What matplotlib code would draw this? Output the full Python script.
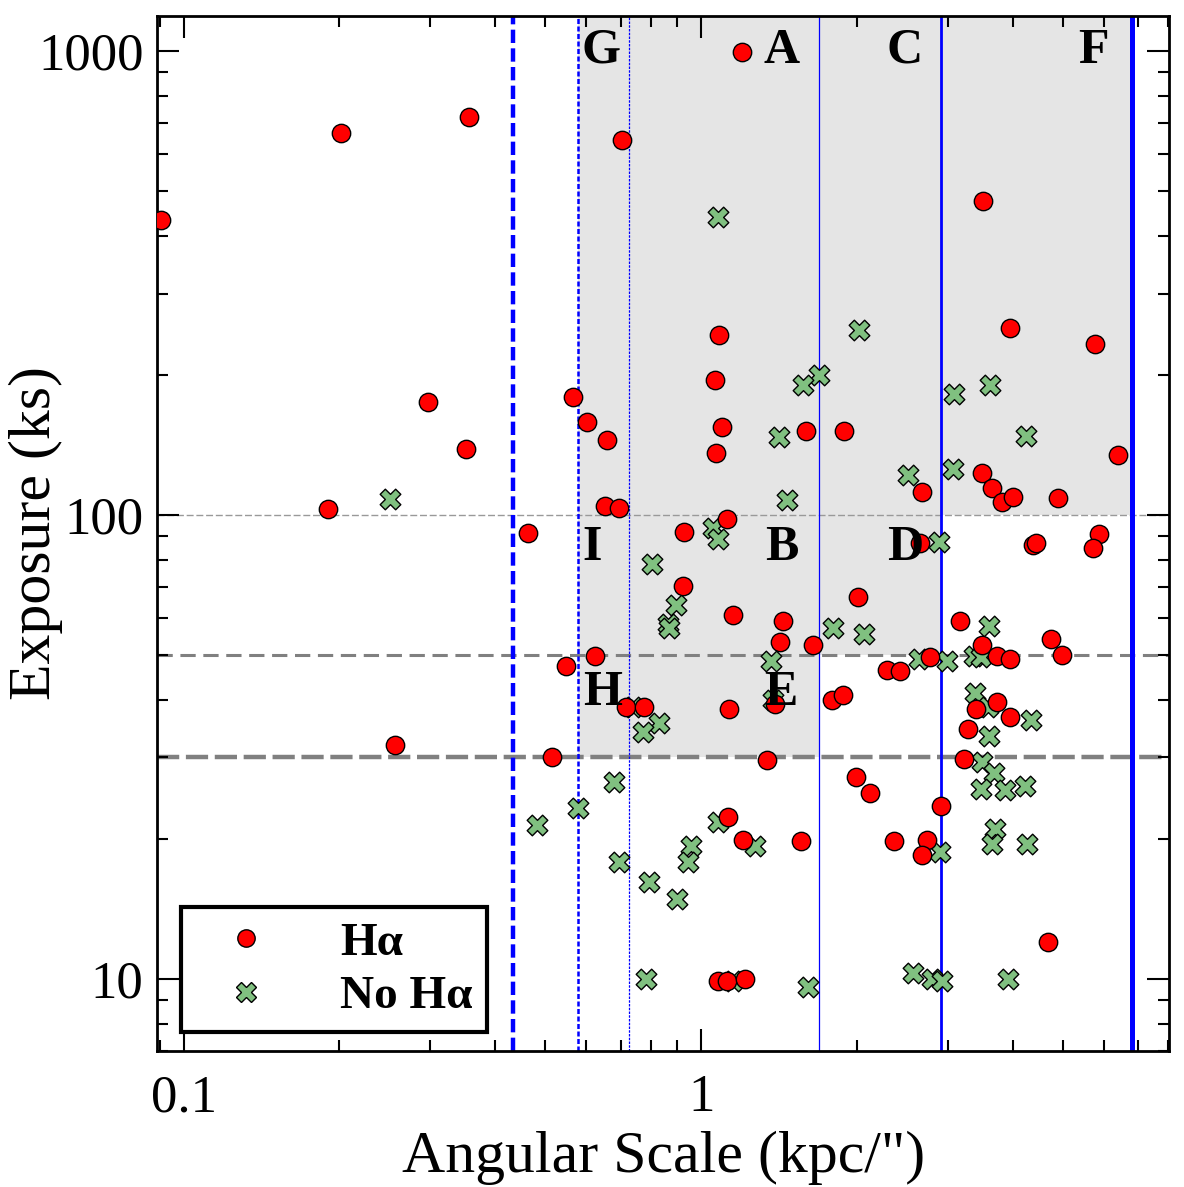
import matplotlib.pyplot as plt
from matplotlib.lines import Line2D

plt.rcParams['font.family'] = ['Liberation Serif', 'DejaVu Serif']

# galaxies with H-alpha: angular scale (kpc/") and exposure (ks)
ha_scale = [0.0905, 0.2015, 0.356, 0.297, 0.3515, 0.190, 0.2563, 1.201, 0.703, 3.505,
            3.949, 5.77, 1.085, 1.066, 0.565, 0.601, 0.658, 1.096, 1.070, 1.596,
            1.890, 6.377, 2.672, 3.493, 3.653, 3.816, 4.012, 4.888, 0.6534, 0.6931,
            1.120, 0.4625, 0.9284, 0.922, 1.151, 1.440, 1.421, 1.644, 0.624, 0.548,
            0.7151, 0.7772, 1.134, 1.390, 1.794, 1.878, 0.5147, 1.343, 2.649, 4.375,
            4.439, 5.884, 5.713, 2.008, 3.170, 3.497, 4.740, 4.991, 2.770, 3.737,
            3.955, 2.291, 2.427, 3.727, 3.400, 3.955, 3.281, 3.223, 1.993, 2.121,
            1.129, 1.204, 1.558, 2.906, 2.360, 2.730, 2.677, 4.689, 1.080, 1.124,
            1.218]
ha_exp = [432, 666, 721, 175.5, 138.8, 102.9, 31.9, 994, 643, 475,
          253, 233.6, 243.6, 195.4, 179.4, 158.4, 145.1, 154.5, 136.0, 152,
          151.7, 134.3, 112.2, 123.1, 114.3, 106.4, 109.4, 108.5, 104.3, 103.4,
          97.8, 91.6, 91.9, 70.1, 60.7, 59.1, 53.3, 52.4, 49.6, 47.3,
          38.5, 38.5, 38.2, 39.2, 39.9, 40.9, 30.0, 29.6, 86.9, 86.0,
          86.9, 90.9, 84.8, 66.5, 59.2, 52.4, 54.1, 50.0, 49.4, 49.7,
          48.9, 46.3, 46.1, 39.6, 38.1, 36.6, 34.5, 29.8, 27.2, 25.1,
          22.3, 19.9, 19.8, 23.6, 19.8, 19.9, 18.5, 12.0, 9.9, 9.9,
          10.0]

# galaxies without H-alpha
noha_scale = [0.2503, 1.077, 2.019, 1.692, 1.571, 3.078, 3.610, 1.413, 4.241, 2.506,
              3.069, 1.464, 1.053, 1.079, 0.804, 0.8949, 0.8646, 0.8685, 1.802, 2.065,
              1.364, 0.740, 0.8285, 0.7717, 1.379, 0.680, 2.884, 3.607, 2.637, 2.984,
              3.369, 3.471, 3.380, 3.591, 4.336, 3.602, 3.497, 3.683, 3.471, 3.868,
              4.228, 0.579, 0.4816, 1.079, 1.273, 0.9578, 0.9451, 0.6953, 0.7934, 0.8977,
              0.7829, 1.154, 1.612, 3.694, 3.655, 4.271, 2.896, 2.572, 2.791, 2.918,
              3.914]
noha_exp = [108.3, 437.7, 250.7, 199.9, 190.1, 181.8, 190.1, 147.0, 147.9, 121.6,
            125.8, 107.8, 93.6, 88.9, 78.5, 63.9, 58.2, 57.0, 57.0, 55.3,
            48.4, 38.6, 35.6, 34.0, 39.9, 26.6, 87.2, 57.7, 49.0, 48.4,
            49.7, 49.4, 41.4, 38.5, 36.1, 33.3, 29.3, 27.8, 25.7, 25.5,
            26.0, 23.4, 21.5, 21.8, 19.3, 19.3, 17.9, 17.9, 16.2, 14.9,
            10.0, 9.9, 9.62, 21.0, 19.5, 19.5, 18.8, 10.3, 10.0, 9.9,
            10.0]

# selection cuts
scale_cuts = [0.433, 0.579, 0.725, 1.693, 2.906, 6.806]
exp_cuts = [100, 50, 30]

region_names = ['G', 'A', 'C', 'F', 'I', 'B', 'D', 'H', 'E']
region_x = [0.641, 1.428, 2.468, 5.72, 0.616, 1.434, 2.477, 0.644, 1.428]
region_y = [1000, 1000, 1000, 1000, 84.9, 84.9, 84.9, 41.3, 41.3]

xmin, xmax = 0.089, 8.03
ymin, ymax = 7.0, 1192

fig = plt.figure(figsize=(11.84, 11.87), dpi=100)
ax = fig.add_axes([0.1329, 0.1148, 0.8547, 0.8721])
ax.set_xscale('log')
ax.set_yscale('log')
ax.set_xlim(xmin, xmax)
ax.set_ylim(ymin, ymax)

# shaded selection region (staircase)
s = scale_cuts
shade_x = [s[1], s[3], s[3], s[4], s[4], s[5], s[5], s[1]]
shade_y = [exp_cuts[2], exp_cuts[2], exp_cuts[1], exp_cuts[1], exp_cuts[0], exp_cuts[0], ymax, ymax]
ax.fill(shade_x, shade_y, color='#e5e5e5', lw=0, zorder=0)

# horizontal exposure cuts
ax.axhline(exp_cuts[0], color='#999999', lw=1.0, ls=(0, (5, 2)), zorder=1)
ax.axhline(exp_cuts[1], color='#808080', lw=2.2, ls=(0, (5, 2.5)), zorder=1)
ax.axhline(exp_cuts[2], color='#808080', lw=3.2, ls=(0, (5, 1.5)), zorder=1)

# vertical scale cuts
ax.axvline(s[0], color='blue', lw=3.2, ls=(0, (3, 1.2)), zorder=1)
ax.axvline(s[1], color='blue', lw=1.8, ls=(0, (2, 1)), zorder=1)
ax.axvline(s[2], color='blue', lw=0.9, ls=(0, (2, 1)), zorder=1)
ax.axvline(s[3], color='blue', lw=0.9, zorder=1)
ax.axvline(s[4], color='blue', lw=2.0, zorder=1)
ax.axvline(s[5], color='blue', lw=3.6, zorder=1)

ax.scatter(noha_scale, noha_exp, marker='X', s=220, c='#80c080',
           edgecolors='black', linewidths=1.0, zorder=3)
ax.scatter(ha_scale, ha_exp, marker='o', s=175, c='red',
           edgecolors='black', linewidths=1.0, zorder=4)

for name, rx, ry in zip(region_names, region_x, region_y):
    ax.text(rx, ry, name, fontsize=36, fontweight='bold', ha='center', va='center',
            zorder=5)

ax.set_xticks([0.1, 1])
ax.set_xticklabels(['0.1', '1'])
ax.set_yticks([10, 100, 1000])
ax.set_yticklabels(['10', '100', '1000'])
ax.tick_params(which='both', direction='in', top=True, right=True, width=1.5,
               labelsize=38)
ax.tick_params(axis='x', which='both', pad=17)
ax.tick_params(axis='y', which='both', pad=10)
ax.tick_params(which='major', length=16)
ax.tick_params(which='minor', length=8)
for sp in ax.spines.values():
    sp.set_linewidth(2)

ax.set_xlabel('Angular Scale (kpc/")', fontsize=43, labelpad=6)
ax.set_ylabel('Exposure (ks)', fontsize=43)
ax.yaxis.set_label_coords(-0.1199, 0.5)
ax.yaxis.label.set_va('center')

handles = [
    Line2D([], [], ls='none', marker='o', ms=12.5, mfc='red', mec='black', mew=1.0),
    Line2D([], [], ls='none', marker='X', ms=14, mfc='#80c080', mec='black', mew=1.0),
]
leg = ax.legend(handles, ['H\u03b1', 'No H\u03b1'], loc='lower left',
                bbox_to_anchor=(0.0231, 0.0178), borderaxespad=0,
                prop={'size': 34, 'weight': 'bold'}, frameon=True, fancybox=False,
                framealpha=1, handletextpad=0.92, borderpad=0.3, labelspacing=0.22,
                handlelength=2.15)
leg.get_frame().set_edgecolor('black')
leg.get_frame().set_linewidth(3)

fig.savefig('out.png', dpi=100)
